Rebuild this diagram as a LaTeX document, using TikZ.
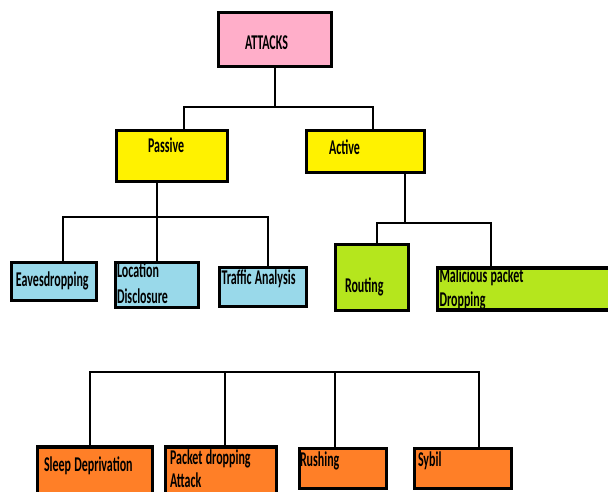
\documentclass[tikz,border=0pt]{standalone}
\usepackage{fontspec}
\setmainfont{Carlito}[FakeStretch=0.57]
\definecolor{paintRose}{HTML}{FFAEC9}
\definecolor{paintYellow}{HTML}{FFF200}
\definecolor{paintBlue}{HTML}{99D9EA}
\definecolor{paintLime}{HTML}{B5E61D}
\definecolor{paintOrange}{HTML}{FF7F27}
\tikzset{
  box/.style={draw, line width=3.2pt, rectangle, inner sep=0pt, align=left,
    text height=14pt, text depth=4pt,
    font=\fontsize{21}{20.4}\selectfont\bfseries,
    execute at begin node={\spaceskip=3.2pt\relax}},
  wire/.style={line width=2.8pt, line join=miter},
}
\begin{document}
\begin{tikzpicture}[x=1pt, y=-1pt]
% Page size of the picture
\useasboundingbox (0,0) rectangle (608,492);
\clip (0,0) rectangle (608,492);

% Top of the tree
\node[box, fill=paintRose, minimum width=113, minimum height=54, text width=60, text height=24pt] (attacks) at (275,39.5) {ATTACKS};
\node[box, fill=paintYellow, minimum width=111, minimum height=51, text width=48, text depth=20pt] (passive) at (172,156) {Passive};
\node[box, fill=paintYellow, minimum width=118, minimum height=42, text width=73, text depth=8pt] (active) at (365.5,151.5) {Active};

% Passive attacks
\node[box, fill=paintBlue, minimum width=85, minimum height=38, text width=76] (eaves) at (54,281.5) {Eavesdropping};
\node[box, fill=paintBlue, minimum width=83, minimum height=43, text width=80, text height=15pt, text depth=30pt] (location) at (157,285) {Location\\[5.6pt]Disclosure};
\node[box, fill=paintBlue, minimum width=87, minimum height=39, text width=83, text depth=20pt] (traffic) at (263,287) {Traffic Analysis};

% Active attacks
\node[box, fill=paintLime, minimum width=73, minimum height=66, text width=54, text height=34pt] (routing) at (372,277.5) {Routing};
\node[box, fill=paintLime, minimum width=175, minimum height=42, text width=171, text height=13pt, text depth=27pt] (malicious) at (525,289) {Malicious packet\\[3.6pt]Dropping};

% Bottom row
\node[box, fill=paintOrange, minimum width=115, minimum height=56, text width=102, text depth=22pt] (sleep) at (95,475) {Sleep Deprivation};
\node[box, fill=paintOrange, minimum width=111, minimum height=56, text width=102, text height=13pt, text depth=34pt] (packet) at (221,475) {Packet dropping\\[3pt]Attack};
\node[box, fill=paintOrange, minimum width=87, minimum height=40, text width=86, text depth=18pt] (rushing) at (343,468.5) {Rushing};
\node[box, fill=paintOrange, minimum width=97, minimum height=40, text width=90, text depth=18pt] (sybil) at (463,468.5) {Sybil};

% Bars of the tree
\coordinate (barAL) at (184,107);
\coordinate (barAR) at (373,107);
\coordinate (barBL) at (63,217);
\coordinate (barBR) at (268,217);
\coordinate (barCL) at (377,223);
\coordinate (barCM) at (405,223);
\coordinate (barCR) at (491,223);
\coordinate (barDL) at (90,372);
\coordinate (barDP) at (225,372);
\coordinate (barDS) at (335,372);
\coordinate (barDR) at (479,372);

% Connectors
\draw[wire] (attacks.south) -- (attacks.south |- barAL);
\draw[wire] (passive.north -| barAL) -- (barAL) -- (barAR) -- (active.north -| barAR);
\draw[wire] (passive.south -| location.north) -- (location.north);
\draw[wire] (eaves.north -| barBL) -- (barBL) -- (barBR) -- (traffic.north -| barBR);
\draw[wire] (active.south -| barCM) -- (barCM);
\draw[wire] (routing.north -| barCL) -- (barCL) -- (barCR) -- (malicious.north -| barCR);
\draw[wire] (sleep.north -| barDL) -- (barDL) -- (barDR) -- (sybil.north -| barDR);
\draw[wire] (barDP) -- (packet.north -| barDP);
\draw[wire] (barDS) -- (rushing.north -| barDS);
\end{tikzpicture}
\end{document}
